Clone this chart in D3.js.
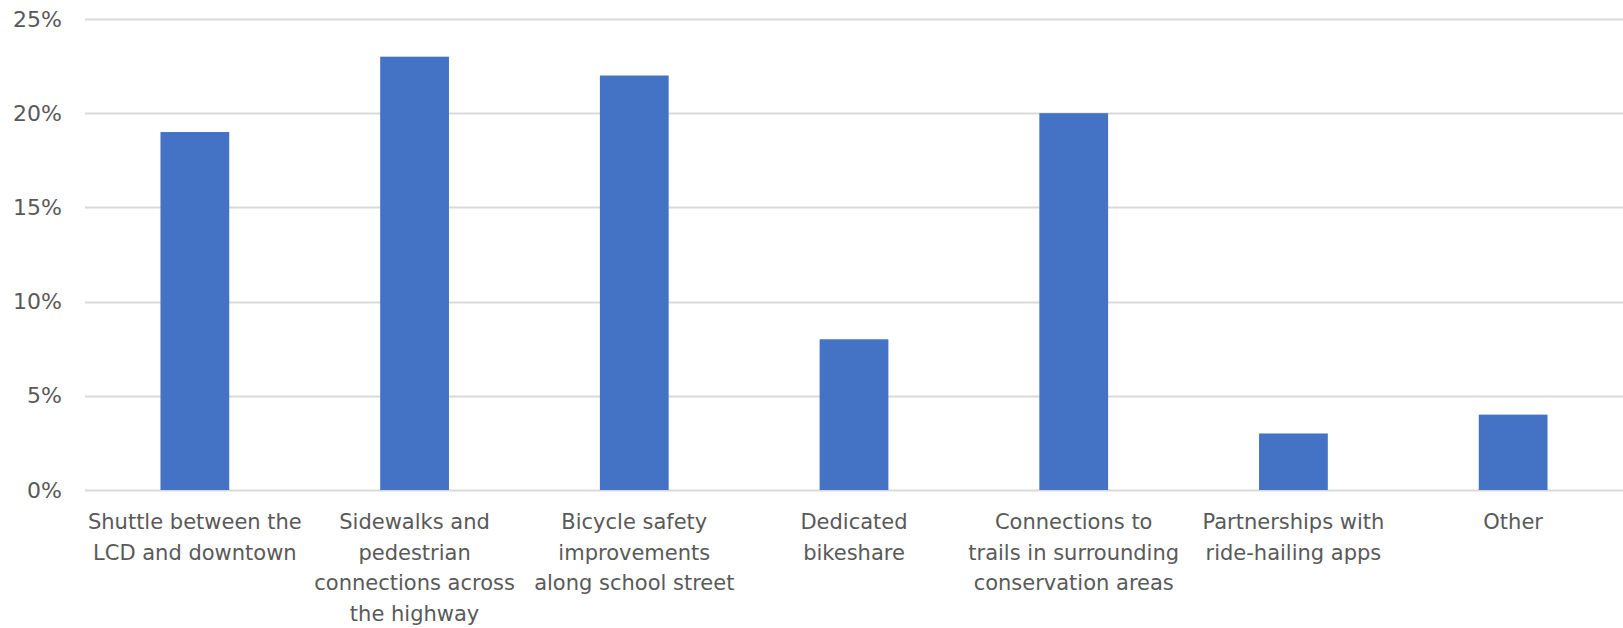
<!DOCTYPE html>
<html>
<head>
<meta charset="utf-8">
<script src="https://cdn.jsdelivr.net/npm/d3@7"></script>
<style>
  body { margin: 0; background: #fff; }
  svg text { font-family: "DejaVu Sans", sans-serif; fill: #595959; }
</style>
</head>
<body>
<div id="chart"></div>
<script>
// categories (line breaks as in the original axis labels)
var categories = [
  ['Shuttle between the', 'LCD and downtown'],
  ['Sidewalks and', 'pedestrian', 'connections across', 'the highway'],
  ['Bicycle safety', 'improvements', 'along school street'],
  ['Dedicated', 'bikeshare'],
  ['Connections to', 'trails in surrounding', 'conservation areas'],
  ['Partnerships with', 'ride-hailing apps'],
  ['Other']
];
var shares = [0.19, 0.23, 0.22, 0.08, 0.20, 0.03, 0.04];
var yTicks = [0, 0.05, 0.10, 0.15, 0.20, 0.25];

var W = 1623, H = 628;
var margin = {top: 19, right: 0, bottom: 138, left: 85};

var svg = d3.select('#chart').append('svg')
  .attr('width', W)
  .attr('height', H);

var x = d3.scaleBand()
  .domain(d3.range(categories.length))
  .range([margin.left, W - margin.right])
  .paddingInner(0.687)
  .paddingOuter(0.3435);

var y = d3.scaleLinear()
  .domain([0, 0.25])
  .range([H - margin.bottom, margin.top]);

// gridlines
svg.append('g')
  .selectAll('line')
  .data(yTicks)
  .enter()
  .append('line')
    .attr('x1', margin.left)
    .attr('x2', W - margin.right)
    .attr('y1', function(d) { return Math.round(y(d)) + 0.5; })
    .attr('y2', function(d) { return Math.round(y(d)) + 0.5; })
    .attr('stroke', '#d9d9d9')
    .attr('stroke-width', 2);

// y axis labels
var yAxis = d3.axisLeft(y)
  .tickValues(yTicks)
  .tickFormat(d3.format('.0%'))
  .tickSize(0)
  .tickPadding(23);
var gy = svg.append('g')
  .attr('transform', 'translate(' + margin.left + ',0)')
  .call(yAxis);
gy.select('.domain').remove();
gy.selectAll('text')
  .style('font-size', '22px')
  .attr('fill', '#595959');

// bars
svg.append('g')
  .selectAll('rect')
  .data(shares)
  .enter()
  .append('rect')
    .attr('x', function(d, i) { return x(i); })
    .attr('width', x.bandwidth())
    .attr('y', function(d) { return y(d); })
    .attr('height', function(d) { return y(0) - y(d); })
    .attr('fill', '#4472c4');

// x axis labels
var labels = svg.append('g')
  .selectAll('text')
  .data(categories)
  .enter()
  .append('text')
    .attr('x', function(d, i) { return x(i) + x.bandwidth() / 2; })
    .attr('y', y(0) + 39)
    .attr('text-anchor', 'middle')
    .style('font-size', '21px');

labels.selectAll('tspan')
  .data(function(d) { return d; })
  .enter()
  .append('tspan')
    .attr('x', function() { return d3.select(this.parentNode).attr('x'); })
    .attr('dy', function(d, i) { return i === 0 ? 0 : 30.5; })
    .text(function(d) { return d; });
</script>
</body>
</html>
